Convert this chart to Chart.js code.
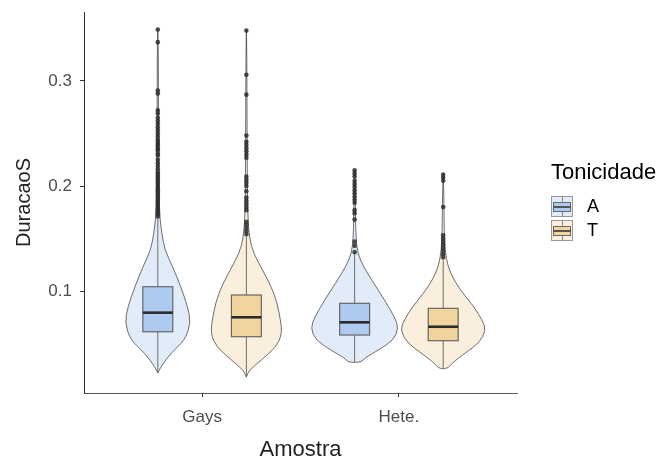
<!DOCTYPE html>
<html>
<head>
<meta charset="utf-8">
<script src="https://cdn.jsdelivr.net/npm/chart.js@4/dist/chart.umd.min.js"></script>
<style>
html,body{margin:0;padding:0;background:#fff;}
#wrap{position:relative;width:661px;height:461px;}
#legend{position:absolute;left:0;top:0;font-family:"Liberation Sans",Arial,sans-serif;color:#000;}
#legend .title{position:absolute;left:551px;top:159px;font-size:22px;line-height:26px;white-space:nowrap;}
#legend .key{position:absolute;left:551px;width:22px;height:21px;box-sizing:border-box;border:1px solid #999;}
#legend .key .box{position:absolute;left:1px;right:1px;top:5px;height:10px;box-sizing:border-box;border:1px solid #6a6a6a;}
#legend .key .med{position:absolute;left:1px;right:1px;top:9px;height:1.5px;background:#555;}
#legend .key .wt{position:absolute;left:9.5px;top:0;width:1px;height:5px;background:#888;}
#legend .key .wb{position:absolute;left:9.5px;top:15px;width:1px;height:5px;background:#888;}
#legend .lab{position:absolute;left:587px;font-size:18px;line-height:21px;}
</style>
</head>
<body>
<div id="wrap">
<canvas id="c" width="661" height="461"></canvas>
<div id="legend"></div>
</div>
<script>
// ---------- data ----------
const categories = ['Gays', 'Hete.'];
const groups = ['A', 'T'];
const legendTitle = 'Tonicidade';
const xTitle = 'Amostra';
const yTitle = 'DuracaoS';
const yTicks = [0.1, 0.2, 0.3];

// violin density profiles (value, relative density)
const gaysA_y    = [0.349,0.33,0.30,0.26,0.22,0.19,0.17,0.155,0.139,0.123,0.104,0.085,0.0695,0.053,0.041,0.0276,0.0219];
const gaysA_dens = [0,0.011,0.013,0.016,0.020,0.027,0.045,0.090,0.157,0.337,0.517,0.674,0.742,0.607,0.292,0.067,0];
const gaysT_y    = [0.348,0.32,0.28,0.24,0.20,0.17,0.151,0.136,0.117,0.098,0.079,0.06,0.0467,0.0343,0.0248,0.018];
const gaysT_dens = [0,0.011,0.013,0.018,0.022,0.034,0.067,0.157,0.404,0.629,0.742,0.809,0.674,0.337,0.067,0];
const heteA_y    = [0.215,0.19,0.165,0.15,0.136,0.123,0.1076,0.0914,0.0752,0.0648,0.0533,0.0438,0.0362,0.0325,0.032];
const heteA_dens = [0,0.016,0.022,0.034,0.067,0.202,0.427,0.674,0.899,0.989,0.876,0.539,0.225,0.157,0];
const heteT_y    = [0.211,0.19,0.16,0.145,0.131,0.117,0.101,0.0848,0.0724,0.0629,0.0505,0.041,0.0314,0.0267,0.026];
const heteT_dens = [0,0.016,0.022,0.034,0.067,0.157,0.382,0.697,0.876,0.966,0.809,0.494,0.202,0.112,0];

// box stats: [lower whisker, q1, median, q3, upper whisker]
const gaysA_box = [0.022, 0.0612, 0.0794, 0.1041, 0.169];
const gaysT_box = [0.018, 0.0565, 0.075, 0.0962, 0.152];
const heteA_box = [0.032, 0.0581, 0.0702, 0.0883, 0.135];
const heteT_box = [0.026, 0.0527, 0.066, 0.0835, 0.129];

// outliers
const gaysA_out = [0.349,0.337,0.291,0.288,0.272,0.269,0.265,0.262,0.259,0.256,0.253,0.250,0.247,0.244,0.242,0.240,0.238,0.236,0.234,0.231,0.229,0.225,0.222,0.219,0.216,0.213,0.211,0.209,0.207,0.205,0.203,0.201,0.199,0.197,0.195,0.193,0.191,0.189,0.187,0.185,0.183,0.181,0.179,0.177,0.175,0.173,0.171];
const gaysT_out = [0.348,0.306,0.287,0.248,0.242,0.239,0.236,0.233,0.230,0.227,0.209,0.206,0.203,0.200,0.195,0.189,0.186,0.183,0.180,0.177,0.166,0.163,0.160,0.157,0.154];
const heteA_out = [0.215,0.212,0.209,0.205,0.202,0.199,0.196,0.193,0.190,0.187,0.184,0.177,0.174,0.168,0.147,0.143,0.137];
const heteT_out = [0.211,0.208,0.205,0.180,0.153,0.150,0.147,0.144,0.141,0.138,0.135,0.132];

// ---------- styles ----------
const violinFill = {A: '#e2ebf8', T: '#f9efdc'};
const boxFill = {A: '#aecaf1', T: '#f2d59e'};
const DODGE = 0.225, VIOLIN_HALF = 0.226, BOX_HALF = 0.076;

const series = [
  {cat: 0, grp: 'A', vy: gaysA_y, vd: gaysA_dens, box: gaysA_box, out: gaysA_out},
  {cat: 0, grp: 'T', vy: gaysT_y, vd: gaysT_dens, box: gaysT_box, out: gaysT_out},
  {cat: 1, grp: 'A', vy: heteA_y, vd: heteA_dens, box: heteA_box, out: heteA_out},
  {cat: 1, grp: 'T', vy: heteT_y, vd: heteT_dens, box: heteT_box, out: heteT_out},
];
function centerOf(s) { return (s.cat + 1) + (s.grp === 'A' ? -DODGE : DODGE); }

function smoothPath(ctx, pts) {
  ctx.moveTo(pts[0][0], pts[0][1]);
  for (let i = 1; i < pts.length - 1; i++) {
    const mx = (pts[i][0] + pts[i+1][0]) / 2, my = (pts[i][1] + pts[i+1][1]) / 2;
    ctx.quadraticCurveTo(pts[i][0], pts[i][1], mx, my);
  }
  const L = pts[pts.length - 1];
  ctx.lineTo(L[0], L[1]);
}

const violinPlugin = {
  id: 'violins',
  beforeDatasetsDraw(chart) {
    const ctx = chart.ctx, xs = chart.scales.x, ys = chart.scales.y;
    ctx.save();
    series.forEach(s => {
      const c = centerOf(s);
      const left = [], right = [];
      for (let i = 0; i < s.vy.length; i++) {
        const py = ys.getPixelForValue(s.vy[i]);
        left.push([xs.getPixelForValue(c - s.vd[i] * VIOLIN_HALF), py]);
        right.push([xs.getPixelForValue(c + s.vd[i] * VIOLIN_HALF), py]);
      }
      const pts = left.concat(right.reverse());
      ctx.beginPath();
      smoothPath(ctx, pts);
      ctx.closePath();
      ctx.fillStyle = violinFill[s.grp];
      ctx.fill();
      ctx.strokeStyle = '#333';
      ctx.lineWidth = 0.7;
      ctx.stroke();
      // box
      const cx = xs.getPixelForValue(c);
      const bl = xs.getPixelForValue(c - BOX_HALF), br = xs.getPixelForValue(c + BOX_HALF);
      const [lo, q1, med, q3, hi] = s.box.map(v => ys.getPixelForValue(v));
      ctx.strokeStyle = '#6e6e6e';
      ctx.lineWidth = 1;
      ctx.beginPath();
      ctx.moveTo(cx, lo); ctx.lineTo(cx, q1);
      ctx.moveTo(cx, q3); ctx.lineTo(cx, hi);
      ctx.stroke();
      ctx.fillStyle = boxFill[s.grp];
      ctx.fillRect(bl, q3, br - bl, q1 - q3);
      ctx.lineWidth = 1.2;
      ctx.strokeStyle = '#666';
      ctx.strokeRect(bl, q3, br - bl, q1 - q3);
      ctx.beginPath();
      ctx.moveTo(bl, med); ctx.lineTo(br, med);
      ctx.lineWidth = 2.6;
      ctx.strokeStyle = '#2b2b2b';
      ctx.stroke();
    });
    ctx.restore();
  }
};

const datasets = series.map(s => ({
  label: categories[s.cat] + ' ' + s.grp,
  data: s.out.map(v => ({x: centerOf(s), y: v})),
  pointRadius: 2.3,
  pointBackgroundColor: 'rgba(45,45,45,0.85)',
  pointBorderWidth: 0,
  pointHoverRadius: 2.3,
}));

const font = "'Liberation Sans', Arial, sans-serif";
new Chart(document.getElementById('c'), {
  type: 'scatter',
  data: {datasets},
  options: {
    responsive: false,
    animation: false,
    events: [],
    layout: {padding: {left: 0, right: 144, top: 12, bottom: 0}},
    plugins: {legend: {display: false}, tooltip: {enabled: false}},
    scales: {
      x: {
        type: 'linear', min: 0.4, max: 2.6,
        afterBuildTicks: sc => { sc.ticks = categories.map((c, i) => ({value: i + 1})); },
        afterFit: sc => { sc.height = 68; sc.paddingLeft = 0; sc.paddingRight = 0; },
        ticks: {callback: v => categories[Math.round(v) - 1], color: '#4d4d4d', font: {family: font, size: 17}, padding: 10, maxRotation: 0, autoSkip: false},
        grid: {display: true, drawOnChartArea: false, drawTicks: true, tickLength: 4, color: '#333', tickWidth: 1},
        border: {display: true, color: '#555', width: 1},
        title: {display: true, text: xTitle, color: '#222', font: {family: font, size: 22, lineHeight: 1}, padding: {top: 0, bottom: 0}}
      },
      y: {
        type: 'linear', min: 0.0029, max: 0.3657,
        afterBuildTicks: sc => { sc.ticks = yTicks.map(v => ({value: v})); },
        afterFit: sc => { sc.width = 84; sc.paddingTop = 0; sc.paddingBottom = 0; },
        ticks: {callback: v => v.toFixed(1), color: '#4d4d4d', font: {family: font, size: 17}, padding: 8},
        grid: {display: true, drawOnChartArea: false, drawTicks: true, tickLength: 4, color: '#333', tickWidth: 1},
        border: {display: true, color: '#333', width: 1},
        title: {display: true, text: yTitle, color: '#222', font: {family: font, size: 20, lineHeight: 1}, padding: {top: 14, bottom: 0}}
      }
    }
  },
  plugins: [violinPlugin]
});

// legend (HTML text)
const lg = document.getElementById('legend');
let html = '<div class="title">' + legendTitle + '</div>';
const keyTops = [196, 220];
groups.forEach((g, i) => {
  html += '<div class="key" style="top:' + keyTops[i] + 'px;background:' + violinFill[g] + '"><div class="wt"></div><div class="box" style="background:' + boxFill[g] + '"></div><div class="med"></div><div class="wb"></div></div>';
  html += '<span class="lab" style="top:' + keyTops[i] + 'px">' + g + '</span>';
});
lg.innerHTML = html;
</script>
</body>
</html>
